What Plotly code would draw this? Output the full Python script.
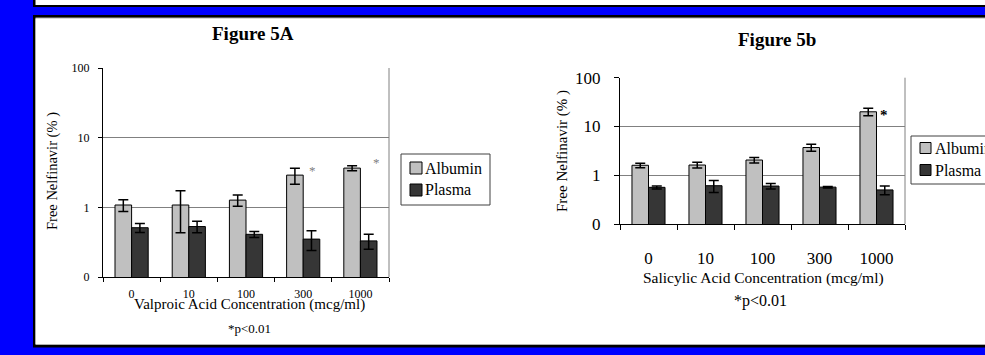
import math
import plotly.graph_objects as go

# ---------------- data ----------------
categories = ["0", "10", "100", "300", "1000"]
series_names = ["Albumin", "Plasma"]

a_albumin = [1.08, 1.08, 1.27, 2.9, 3.66]
a_albumin_err = [0.21, 0.65, 0.23, 0.75, 0.3]
a_plasma = [0.51, 0.53, 0.41, 0.35, 0.33]
a_plasma_err = [0.075, 0.1, 0.04, 0.11, 0.08]

b_albumin = [1.6, 1.62, 2.05, 3.7, 20.0]
b_albumin_err = [0.17, 0.22, 0.27, 0.6, 3.5]
b_plasma = [0.565, 0.61, 0.6, 0.57, 0.5]
b_plasma_err = [0.04, 0.17, 0.075, 0.02, 0.1]

y_tickvals = [0.1, 1, 10, 100]
y_ticktext = ["0", "1", "10", "100"]

title_a = "Figure 5A"
title_b = "Figure 5b"
xtitle_a = "Valproic Acid Concentration (mcg/ml)"
xtitle_b = "Salicylic Acid Concentration (mcg/ml)"
ytitle = "Free Nelfinavir (% )"
note = "*p<0.01"

# ---------------- style ----------------
W, H = 985, 355
SERIF = "Liberation Serif, Times New Roman, serif"
C_ALB = "#C0C0C0"
C_PLA = "#363636"
GRID = "#808080"
BLUE = "#0000FF"


def fx(p):
    return p / W


def fy(p):
    return 1 - p / H


fig = go.Figure()


def add_bars(vals, errs, name, color, xa, ya):
    fig.add_trace(go.Bar(
        x=categories, y=vals, name=name, showlegend=False,
        marker=dict(color=color, line=dict(color="black", width=1)),
        error_y=dict(type="data", array=errs, color="black", thickness=1.5, width=5),
        xaxis=xa, yaxis=ya, hoverinfo="skip",
    ))


add_bars(a_albumin, a_albumin_err, series_names[0], C_ALB, "x", "y")
add_bars(a_plasma, a_plasma_err, series_names[1], C_PLA, "x", "y")
add_bars(b_albumin, b_albumin_err, series_names[0], C_ALB, "x2", "y2")
add_bars(b_plasma, b_plasma_err, series_names[1], C_PLA, "x2", "y2")


def xaxis_cfg(dom, anchor, fsize, standoff, ticklen):
    return dict(
        domain=dom, type="category", anchor=anchor, tickson="boundaries",
        categoryorder="array", categoryarray=categories,
        range=[-0.5, len(categories) - 0.5], autorange=False,
        ticks="outside", ticklen=ticklen, tickcolor="black", showline=True,
        linecolor="black", linewidth=1, showgrid=False, tickangle=0,
        tickfont=dict(family=SERIF, size=fsize, color="black"),
        ticklabelstandoff=standoff, fixedrange=True, automargin=False,
    )


def yaxis_cfg(dom, anchor, fsize, standoff, ticklen):
    return dict(
        domain=dom, anchor=anchor, type="log", range=[-1, 2], autorange=False,
        tickvals=y_tickvals, ticktext=y_ticktext, ticks="outside", ticklen=ticklen,
        tickcolor="black", showline=True, linecolor="black", linewidth=1,
        showgrid=True, gridcolor=GRID, gridwidth=1, zeroline=False,
        tickfont=dict(family=SERIF, size=fsize, color="black"),
        ticklabelstandoff=standoff, fixedrange=True, automargin=False,
    )


xa = xaxis_cfg([fx(103), fx(389)], "y", 12, 6, 4)
ya = yaxis_cfg([fy(277), fy(68)], "x", 12, 6, 4)
xb = xaxis_cfg([fx(620), fx(905)], "y2", 17, 19, 5)
yb = yaxis_cfg([fy(224), fy(77.7)], "x2", 17, 10, 5)

shapes = []
# frame
shapes.append(dict(type="rect", xref="paper", yref="paper", x0=fx(33), x1=fx(1000),
                   y0=fy(7), y1=fy(-5), fillcolor="black", line_width=0, layer="below"))
shapes.append(dict(type="rect", xref="paper", yref="paper", x0=fx(35.5), x1=fx(1000),
                   y0=fy(5), y1=fy(-5), fillcolor="white", line_width=0, layer="below"))
shapes.append(dict(type="rect", xref="paper", yref="paper", x0=fx(33), x1=fx(1000),
                   y0=fy(347.5), y1=fy(15), fillcolor="black", line_width=0, layer="below"))
shapes.append(dict(type="rect", xref="paper", yref="paper", x0=fx(35.5), x1=fx(1000),
                   y0=fy(345), y1=fy(17.5), fillcolor="#B0B0B0", line_width=0, layer="below"))
shapes.append(dict(type="rect", xref="paper", yref="paper", x0=fx(35.5), x1=fx(1000),
                   y0=fy(344), y1=fy(18.5), fillcolor="white", line_width=0, layer="below"))
# right borders of the plot areas
for xr, yr in (("x domain", "y domain"), ("x2 domain", "y2 domain")):
    shapes.append(dict(type="line", xref=xr, yref=yr, x0=1, x1=1, y0=0, y1=1,
                       line=dict(color=GRID, width=1)))

annotations = []


def text(x, y, s, size, bold=False, angle=0, color="black", xanchor="center"):
    annotations.append(dict(
        x=fx(x), y=fy(y), xref="paper", yref="paper", text=f"<b>{s}</b>" if bold else s,
        showarrow=False, xanchor=xanchor, yanchor="middle", textangle=angle,
        font=dict(family=SERIF, size=size, color=color),
    ))


text(253, 34, title_a, 19, bold=True)
text(777, 40, title_b, 19, bold=True)
text(52, 171, ytitle, 14.5, angle=-90)
text(562, 151, ytitle, 15, angle=-90)
text(249, 304, xtitle_a, 15)
text(763, 278, xtitle_b, 15.5)
text(250, 328, note, 13)
text(760, 301, note, 16)

# significance asterisks, anchored to the bar data
i300 = categories.index("300")
i1000 = categories.index("1000")
annotations.append(dict(x=i300, y=math.log10(a_albumin[i300] + a_albumin_err[i300]),
                        xref="x", yref="y", text="*", showarrow=False, xshift=9, yshift=-2,
                        font=dict(family=SERIF, size=13, color="#808080")))
annotations.append(dict(x=i1000, y=math.log10(a_albumin[i1000]),
                        xref="x", yref="y", text="*", showarrow=False, xshift=16, yshift=6,
                        font=dict(family=SERIF, size=13, color="#808080")))
annotations.append(dict(x=i1000, y=math.log10(b_albumin[i1000]),
                        xref="x2", yref="y2", text="<b>*</b>", showarrow=False, xshift=7, yshift=-3,
                        font=dict(family=SERIF, size=15, color="black")))


# legends (drawn as boxes + text)
def legend(x0, y0, x1, y1, sq_x, sq_size, rows, text_x, size):
    shapes.append(dict(type="rect", xref="paper", yref="paper", x0=fx(x0), x1=fx(x1),
                       y0=fy(y1), y1=fy(y0), fillcolor="white",
                       line=dict(color="#404040", width=1)))
    for (name, color), ry in zip(zip(series_names, [C_ALB, C_PLA]), rows):
        shapes.append(dict(type="rect", xref="paper", yref="paper", x0=fx(sq_x),
                           x1=fx(sq_x + sq_size), y0=fy(ry + sq_size / 2), y1=fy(ry - sq_size / 2),
                           fillcolor=color, line=dict(color="black", width=1)))
        text(text_x, ry, name, size, xanchor="left")


legend(401, 154, 490, 205, 410, 12, [168, 190], 423, 16)
legend(911, 136, 1010, 184, 920, 11, [148, 170], 933, 16)

fig.update_layout(
    width=W, height=H, margin=dict(l=0, r=0, t=0, b=0, pad=0), autosize=False,
    paper_bgcolor=BLUE, plot_bgcolor="white",
    font=dict(family=SERIF, color="black"),
    barmode="group", bargap=0.42, bargroupgap=0,
    xaxis=xa, yaxis=ya, xaxis2=xb, yaxis2=yb,
    shapes=shapes, annotations=annotations, showlegend=False,
    hovermode=False,
)

fig.write_html(
    "out.html",
    config={"displayModeBar": False, "staticPlot": True},
    post_script="document.body.style.margin='0';document.body.style.padding='0';"
                "document.body.style.overflow='hidden';",
)
